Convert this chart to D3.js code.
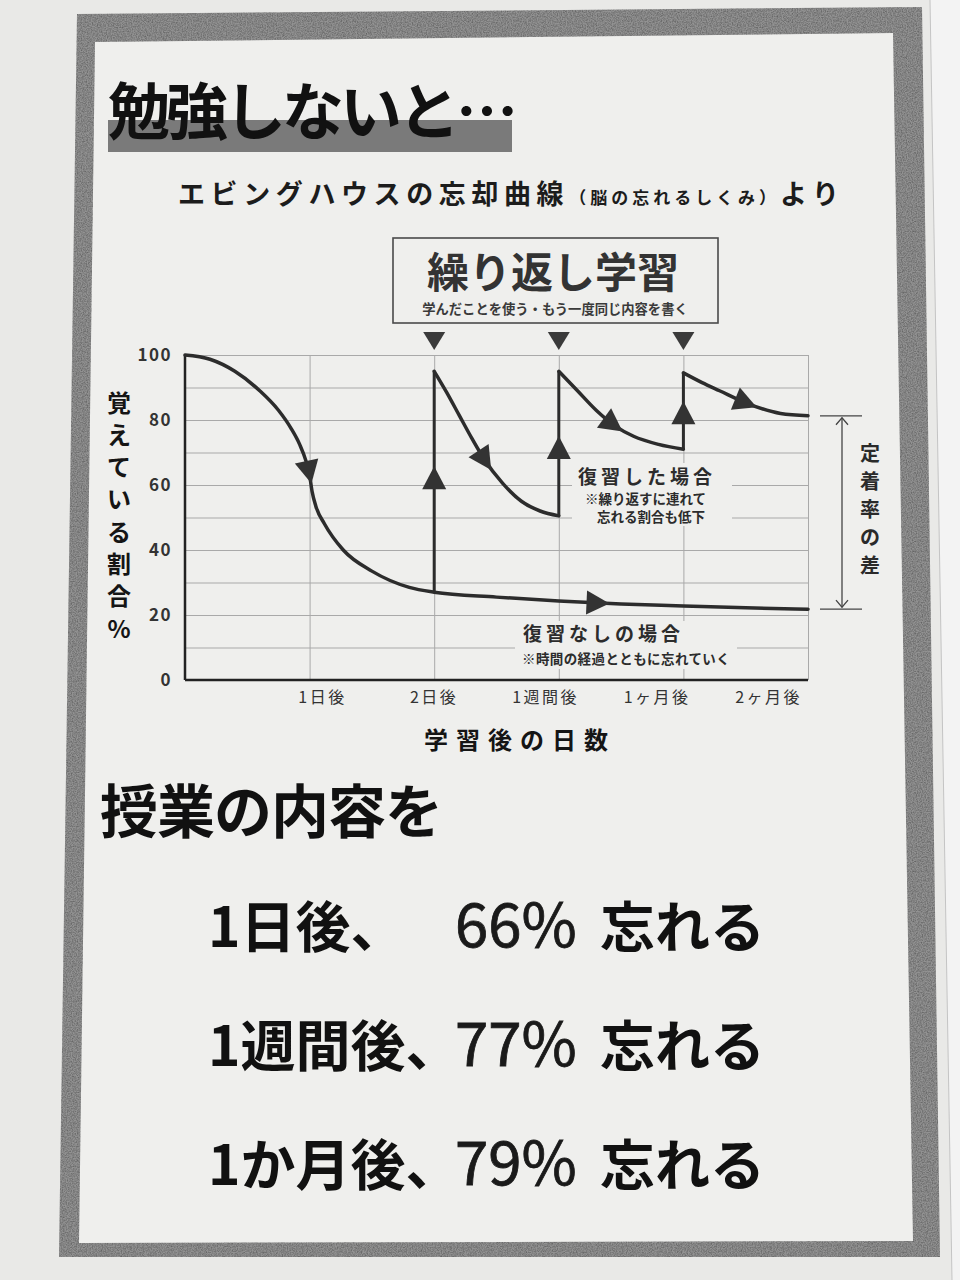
<!DOCTYPE html>
<html>
<head>
<meta charset="utf-8">
<script src="https://cdn.jsdelivr.net/npm/d3@7"></script>
<style>
body { margin: 0; background: #e7e7e5; }
text { font-family: "Noto Sans CJK JP", sans-serif; }
</style>
</head>
<body>
<script>
(function(){

//x axis categories and tick values
var xLabels = ["1日後", "2日後", "1週間後", "1ヶ月後", "2ヶ月後"];
var xGrid = [1, 2, 3, 4, 5];
var yTicks = [0, 20, 40, 60, 80, 100];
var yGrid = [0, 10, 20, 30, 40, 50, 60, 70, 80, 90, 100];

//forgetting curve without review: [step, % remembered]
var noReview = [[0,100],[0.2,98.7],[0.4,95],[0.6,89],[0.75,83],[0.85,77.5],[0.92,72.5],
    [0.97,67.5],[1.0,63],[1.02,58],[1.05,53.5],[1.12,48],[1.27,40],[1.5,33.5],[1.8,28.5],[2,27],
    [2.5,25.5],[3,24.3],[3.5,23.4],[4,22.8],[4.5,22.2],[5,21.8]];

//curves after each review
var decay1 = [[2,95],[2.1,88.5],[2.2,81.5],[2.3,74.5],[2.4,68],[2.55,60.5],[2.7,55],[2.85,52],[3,50.5]];
var decay2 = [[3,95],[3.15,89],[3.3,83],[3.45,78.2],[3.6,75],[3.8,72.5],[4,71]];
var decay3 = [[4,94.5],[4.15,91.5],[4.29,89],[4.5,85.3],[4.78,82],[5,81.3]];
var reviewSteps = [2, 3, 4];

//direction arrows: [path, step, %]
var arrowMarks = [
    ["noReview", 1.0, 64], ["noReview", 3.31, 23.6],
    ["jump0", 2, 62], ["jump1", 3, 71.5], ["jump2", 4, 82],
    ["decay0", 2.37, 67], ["decay1", 3.43, 78.5], ["decay2", 4.5, 85.3]
];

//texts
var yTitleChars = ["覚", "え", "て", "い", "る", "割", "合", "%"];
var gapChars = ["定", "着", "率", "の", "差"];
var rowLabels = ["1日後、", "1週間後、", "1か月後、"];
var forgetPct = [66, 77, 79];

var ink = "#2c2c2c";

var svg = d3.select("body").append("svg")
    .attr("width", 960)
    .attr("height", 1280);

//paper
svg.append("rect").attr("width", 960).attr("height", 1280).attr("fill", "#e9e9e7");
svg.append("polygon").attr("points", "930,0 960,0 960,1280 952,1280").attr("fill", "#f3f3f3");
svg.append("line").attr("x1", 930).attr("y1", 0).attr("x2", 952).attr("y2", 1280)
    .attr("stroke", "#c4c4c4").attr("stroke-width", 1);

//grain filter for printed frame
var defs = svg.append("defs");
var grain = defs.append("filter").attr("id", "grain")
    .attr("x", 0).attr("y", 0).attr("width", "100%").attr("height", "100%");
grain.append("feTurbulence").attr("type", "fractalNoise").attr("baseFrequency", 0.8)
    .attr("numOctaves", 2).attr("seed", 4).attr("result", "n");
grain.append("feColorMatrix").attr("in", "n").attr("type", "matrix")
    .attr("values", "0 0 0 0 0  0 0 0 0 0  0 0 0 0 0  0.6 0 0 0 -0.2").attr("result", "a");
grain.append("feComposite").attr("in", "a").attr("in2", "SourceGraphic").attr("operator", "in");

//frame
var outer = "M77,14 L922,7 L940,1257 L59,1257 Z";
var inner = "M95,42 L893,33 L913,1241 L79,1243 Z";
svg.append("path").attr("d", outer).attr("fill", "#929292");
svg.append("path").attr("d", inner).attr("fill", "#efefed");
svg.append("path").attr("d", outer + " " + inner).attr("fill-rule", "evenodd")
    .attr("fill", "#000").attr("filter", "url(#grain)");

//title
svg.append("rect").attr("x", 108).attr("y", 120).attr("width", 404).attr("height", 32).attr("fill", "#7a7a7a");
svg.append("text").attr("x", 108).attr("y", 135)
    .attr("font-size", 62).attr("font-weight", 700).attr("letter-spacing", -4)
    .attr("fill", "#111").text("勉強しないと…");

var sub = svg.append("text").attr("x", 178).attr("y", 204).attr("fill", "#1c1c1c").attr("font-weight", 700);
sub.append("tspan").attr("font-size", 27).attr("letter-spacing", 5.6).text("エビングハウスの忘却曲線");
sub.append("tspan").attr("font-size", 17).attr("letter-spacing", 4).text("（脳の忘れるしくみ）");
sub.append("tspan").attr("font-size", 27).attr("letter-spacing", 5.6).text("より");

//repeat study box
svg.append("rect").attr("x", 393).attr("y", 238).attr("width", 325).attr("height", 85)
    .attr("fill", "none").attr("stroke", "#4a4a4a").attr("stroke-width", 1.6);
svg.append("text").attr("x", 553).attr("y", 288).attr("text-anchor", "middle")
    .attr("font-size", 42).attr("font-weight", 700).attr("fill", "#333").text("繰り返し学習");
svg.append("text").attr("x", 555).attr("y", 314).attr("text-anchor", "middle")
    .attr("font-size", 13.3).attr("font-weight", 700).attr("fill", "#3a3a3a")
    .text("学んだことを使う・もう一度同じ内容を書く");

//chart scales
var x = d3.scaleLinear().domain([0, 5]).range([185, 808]);
var y = d3.scaleLinear().domain([0, 100]).range([680, 355]);
var labelX = d3.scalePoint().domain(xLabels).range([x(1.1), x(4.68)]);

//review markers above the chart
svg.selectAll(".mark").data(reviewSteps).enter().append("path")
    .attr("class", "mark")
    .attr("d", function(d){
        var cx = x(d);
        return "M" + (cx - 11) + ",332 L" + (cx + 11) + ",332 L" + cx + ",350 Z";
    })
    .attr("fill", "#3a3a3a");

//gridlines
var gy = svg.append("g").attr("transform", "translate(" + x(0) + ",0)")
    .call(d3.axisLeft(y).tickValues(yGrid).tickSize(-(x(5) - x(0))).tickFormat(""));
gy.select(".domain").remove();
gy.selectAll("line").attr("stroke", "#a9a9a9").attr("stroke-width", 1);

var gx = svg.append("g").attr("transform", "translate(0," + y(0) + ")")
    .call(d3.axisBottom(x).tickValues(xGrid).tickSize(-(y(0) - y(100))).tickFormat(""));
gx.select(".domain").remove();
gx.selectAll("line").attr("stroke", "#a9a9a9").attr("stroke-width", 1);

//annotation backgrounds cut the gridlines
svg.append("rect").attr("x", 572).attr("y", 463).attr("width", 160).attr("height", 63).attr("fill", "#efefed");
svg.append("rect").attr("x", 515).attr("y", 621).attr("width", 222).attr("height", 48).attr("fill", "#efefed");

svg.append("text").attr("x", 578).attr("y", 484).attr("font-size", 19).attr("font-weight", 700)
    .attr("letter-spacing", 4).attr("fill", ink).text("復習した場合");
svg.append("text").attr("x", 585).attr("y", 504).attr("font-size", 13.5).attr("font-weight", 700)
    .attr("fill", ink).text("※繰り返すに連れて");
svg.append("text").attr("x", 597).attr("y", 522).attr("font-size", 13.5).attr("font-weight", 700)
    .attr("fill", ink).text("忘れる割合も低下");
svg.append("text").attr("x", 523).attr("y", 641).attr("font-size", 19).attr("font-weight", 700)
    .attr("letter-spacing", 4).attr("fill", ink).text("復習なしの場合");
svg.append("text").attr("x", 522).attr("y", 664).attr("font-size", 13.5).attr("font-weight", 700)
    .attr("letter-spacing", 0.4).attr("fill", ink).text("※時間の経過とともに忘れていく");

//axes lines
svg.append("line").attr("x1", x(0)).attr("x2", x(0)).attr("y1", y(100)).attr("y2", y(0))
    .attr("stroke", "#222").attr("stroke-width", 2.5);
svg.append("line").attr("x1", x(0)).attr("x2", x(5)).attr("y1", y(0)).attr("y2", y(0))
    .attr("stroke", "#222").attr("stroke-width", 2.5);

//y tick labels
var ay = svg.append("g").attr("transform", "translate(172,0)")
    .call(d3.axisLeft(y).tickValues(yTicks).tickSize(0).tickPadding(0));
ay.select(".domain").remove();
ay.selectAll("text").attr("font-family", "'Liberation Serif', serif").attr("font-size", 17)
    .attr("font-weight", 700).attr("letter-spacing", 1.5).attr("fill", "#333");

//x tick labels
var ax = svg.append("g").attr("transform", "translate(0," + y(0) + ")")
    .call(d3.axisBottom(labelX).tickSize(0).tickPadding(12));
ax.select(".domain").remove();
ax.selectAll("text").attr("font-family", "'Noto Sans CJK JP', sans-serif").attr("font-size", 16)
    .attr("letter-spacing", 2.5).attr("fill", "#333");

//axis titles
svg.selectAll(".ytitle").data(yTitleChars).enter().append("text")
    .attr("class", "ytitle")
    .attr("x", 119)
    .attr("y", function(d, i){ return 401 + i * 32.3; })
    .attr("text-anchor", "middle").attr("dominant-baseline", "central")
    .attr("font-size", 24).attr("font-weight", 700).attr("fill", "#151515")
    .text(function(d){ return d; });

svg.append("text").attr("x", 520).attr("y", 749).attr("text-anchor", "middle")
    .attr("font-size", 24).attr("font-weight", 700).attr("letter-spacing", 8)
    .attr("fill", "#151515").text("学習後の日数");

//curves
var curve = d3.line()
    .x(function(d){ return x(d[0]); })
    .y(function(d){ return y(d[1]); })
    .curve(d3.curveMonotoneX);
var straight = d3.line()
    .x(function(d){ return x(d[0]); })
    .y(function(d){ return y(d[1]); });

var paths = {};
var decays = [decay1, decay2, decay3];
var jumpBottoms = [noReview.filter(function(d){ return d[0] == 2; })[0][1],
    decay1[decay1.length - 1][1], decay2[decay2.length - 1][1]];

reviewSteps.forEach(function(s, i){
    paths["jump" + i] = svg.append("path")
        .attr("d", straight([[s, jumpBottoms[i]], [s, decays[i][0][1]]]))
        .attr("fill", "none").attr("stroke", ink).attr("stroke-width", 3).node();
});
decays.forEach(function(dc, i){
    paths["decay" + i] = svg.append("path")
        .attr("d", curve(dc))
        .attr("fill", "none").attr("stroke", ink).attr("stroke-width", 3.5)
        .attr("stroke-linecap", "round").node();
});
paths.noReview = svg.append("path")
    .attr("d", curve(noReview))
    .attr("fill", "none").attr("stroke", ink).attr("stroke-width", 3.5)
    .attr("stroke-linecap", "round").node();

//snap arrows onto the drawn paths
function snap(node, tx, ty){
    var len = node.getTotalLength(), best = 0, bd = Infinity;
    for (var l = 0; l <= len; l += 1){
        var p = node.getPointAtLength(l);
        var dd = (p.x - tx) * (p.x - tx) + (p.y - ty) * (p.y - ty);
        if (dd < bd){ bd = dd; best = l; }
    }
    var c = node.getPointAtLength(best),
        a = node.getPointAtLength(Math.max(0, best - 3)),
        b = node.getPointAtLength(Math.min(len, best + 3));
    return {x: c.x, y: c.y, angle: Math.atan2(b.y - a.y, b.x - a.x) * 180 / Math.PI};
}

svg.selectAll(".arrow").data(arrowMarks).enter().append("path")
    .attr("class", "arrow")
    .attr("d", "M12,0 L-11,-12 L-11,12 Z")
    .attr("fill", "#333")
    .attr("transform", function(d){
        var s = snap(paths[d[0]], x(d[1]), y(d[2]));
        return "translate(" + s.x + "," + s.y + ") rotate(" + s.angle + ")";
    });

//retention gap bracket
var gTop = y(decay3[decay3.length - 1][1]),
    gBot = y(noReview[noReview.length - 1][1]);
svg.append("line").attr("x1", 820).attr("x2", 862).attr("y1", gTop).attr("y2", gTop)
    .attr("stroke", "#444").attr("stroke-width", 1.3);
svg.append("line").attr("x1", 820).attr("x2", 862).attr("y1", gBot).attr("y2", gBot)
    .attr("stroke", "#444").attr("stroke-width", 1.3);
svg.append("line").attr("x1", 842).attr("x2", 842).attr("y1", gTop + 2).attr("y2", gBot - 2)
    .attr("stroke", "#444").attr("stroke-width", 1.3);
svg.append("path")
    .attr("d", "M836," + (gTop + 9) + " L842," + (gTop + 2) + " L848," + (gTop + 9) +
        " M836," + (gBot - 9) + " L842," + (gBot - 2) + " L848," + (gBot - 9))
    .attr("fill", "none").attr("stroke", "#444").attr("stroke-width", 1.3);

svg.selectAll(".gap").data(gapChars).enter().append("text")
    .attr("class", "gap")
    .attr("x", 870)
    .attr("y", function(d, i){ return 452 + i * 28; })
    .attr("text-anchor", "middle").attr("dominant-baseline", "central")
    .attr("font-size", 20).attr("font-weight", 700).attr("fill", "#2a2a2a")
    .text(function(d){ return d; });

//lower message
svg.append("text").attr("x", 100).attr("y", 833)
    .attr("font-size", 58).attr("font-weight", 700).attr("letter-spacing", -1)
    .attr("fill", "#111").text("授業の内容を");

var rows = svg.selectAll(".row").data(rowLabels).enter().append("g")
    .attr("class", "row")
    .attr("transform", function(d, i){ return "translate(0," + (947 + i * 119) + ")"; });
rows.append("text").attr("x", 208)
    .attr("font-size", 55).attr("font-weight", 700).attr("fill", "#111")
    .text(function(d){ return d; });
rows.append("text").attr("x", 455)
    .attr("font-family", "'Liberation Sans', Arial, sans-serif")
    .attr("font-size", 60).attr("fill", "#1a1a1a")
    .attr("stroke", "#1a1a1a").attr("stroke-width", 0.8)
    .text(function(d, i){ return forgetPct[i] + "%"; });
rows.append("text").attr("x", 600)
    .attr("font-size", 55).attr("font-weight", 700).attr("fill", "#111")
    .text("忘れる");

})();
</script>
</body>
</html>
